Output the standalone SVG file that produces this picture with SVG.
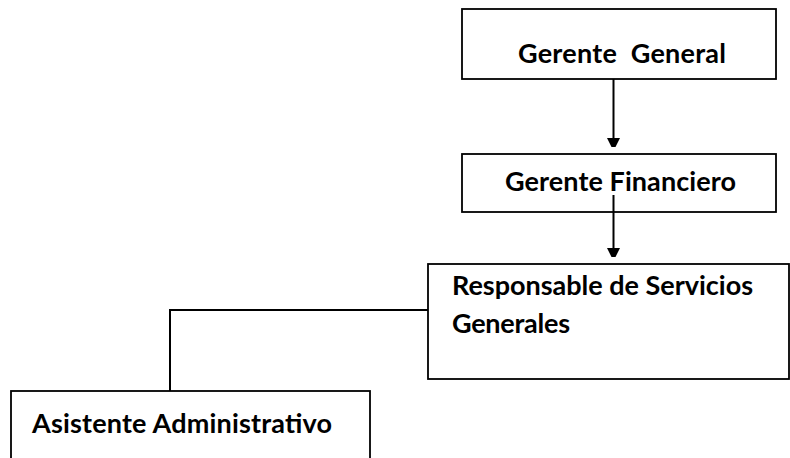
<svg xmlns="http://www.w3.org/2000/svg" width="790" height="458" viewBox="0 0 790 458">
  <style>
    .box { fill: #ffffff; stroke: #000000; stroke-width: 1.8; }
    .lbl { font-family: Lato, "Open Sans", "Liberation Sans", sans-serif; font-weight: bold; font-size: 27px; fill: #000000; white-space: pre; }
    .wire { fill: none; stroke: #000000; stroke-width: 2; }
    .tip { fill: #000000; }
  </style>

  <rect width="790" height="458" fill="#ffffff"/>

  <g id="node-gerente-general">
    <rect class="box" x="462" y="9" width="314" height="70"/>
    <text class="lbl" x="518" y="63" textLength="208" lengthAdjust="spacing" xml:space="preserve">Gerente  General</text>
  </g>

  <g id="node-gerente-financiero">
    <rect class="box" x="462" y="154" width="314" height="58"/>
    <text class="lbl" x="505" y="191" textLength="231" lengthAdjust="spacing">Gerente Financiero</text>
  </g>

  <g id="node-responsable">
    <rect class="box" x="428" y="264" width="361" height="115"/>
    <text class="lbl" x="452" y="295" textLength="301" lengthAdjust="spacing">Responsable de Servicios</text>
    <text class="lbl" x="452" y="333" textLength="118" lengthAdjust="spacing">Generales</text>
  </g>

  <g id="node-asistente">
    <rect class="box" x="11" y="391" width="359" height="80"/>
    <text class="lbl" x="32" y="433" textLength="300" lengthAdjust="spacing">Asistente Administrativo</text>
  </g>

  <g id="connectors">
    <line class="wire" x1="613.5" y1="79" x2="613.5" y2="140"/>
    <path class="tip" d="M607 138 H620 L615.5 147 H611.5 Z"/>
    <line class="wire" x1="613.5" y1="195" x2="613.5" y2="250"/>
    <path class="tip" d="M607 248 H620 L615.5 257 H611.5 Z"/>
    <polyline class="wire" points="428,310 170,310 170,391"/>
  </g>
</svg>
